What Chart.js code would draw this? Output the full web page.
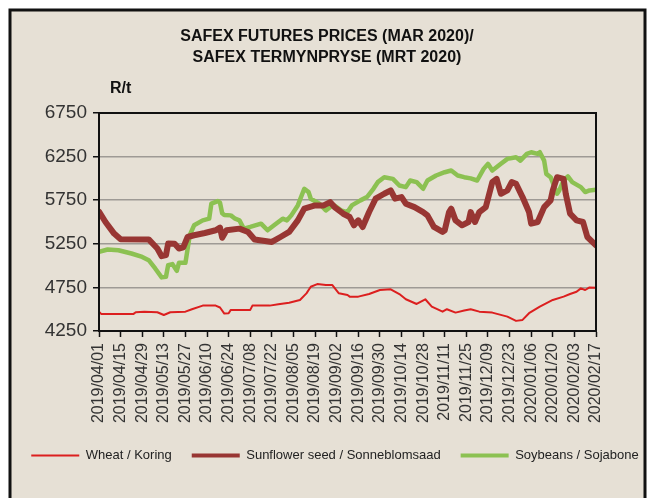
<!DOCTYPE html>
<html>
<head>
<meta charset="utf-8">
<script src="https://cdn.jsdelivr.net/npm/chart.js@4.4.1/dist/chart.umd.min.js"></script>
<style>
  html, body { margin: 0; padding: 0; background: #fff; }
</style>
</head>
<body>
<canvas id="safex-chart" width="654" height="498"></canvas>
<script>
// x axis = trading day index since 2019/04/01, one tick label every 10 days
const tickLabels = [
  '2019/04/01', '2019/04/15', '2019/04/29', '2019/05/13', '2019/05/27', '2019/06/10',
  '2019/06/24', '2019/07/08', '2019/07/22', '2019/08/05', '2019/08/19', '2019/09/02',
  '2019/09/16', '2019/09/30', '2019/10/14', '2019/10/28', '2019/11/11', '2019/11/25',
  '2019/12/09', '2019/12/23', '2020/01/06', '2020/01/20', '2020/02/03', '2020/02/17'
];

const wheatDay = [0, 1, 16, 17, 21, 27, 30, 33, 40, 43, 48, 54, 56, 58, 60, 61, 70, 71, 79, 83,
  88, 93, 96, 98, 101, 105, 108, 111, 115, 116, 120, 125, 130, 135, 139, 142, 147, 151, 154, 159,
  161, 165, 169, 172, 176, 182, 189, 193, 196, 199, 204, 210, 215, 218, 221, 223, 225, 227, 230];
const wheatPrice = [4472, 4446, 4446, 4465, 4472, 4465, 4434, 4465, 4472, 4500, 4541, 4541, 4520, 4450, 4454, 4492, 4492, 4541, 4541, 4556,
  4575, 4606, 4682, 4758, 4788, 4777, 4777, 4682, 4663, 4644, 4644, 4674, 4720, 4728, 4674, 4614, 4560, 4614, 4530, 4472,
  4500, 4461, 4484, 4500, 4472, 4461, 4415, 4366, 4377, 4454, 4530, 4606, 4644, 4674, 4700, 4739, 4720, 4750, 4746];

const sunflowerDay = [0, 3, 7, 10, 23, 27, 29, 31, 32, 35, 37, 39, 41, 44, 49, 54, 56, 57, 59, 65,
  69, 72, 80, 84, 88, 92, 95, 100, 104, 107, 109, 113, 116, 118, 120, 122, 125, 128, 132, 135,
  137, 140, 142, 146, 150, 152, 155, 159, 160, 162, 163, 165, 168, 171, 172, 174, 176, 179, 182, 184,
  186, 189, 191, 193, 196, 199, 200, 203, 206, 209, 210, 212, 215, 216, 218, 221, 224, 226, 230];
const sunflowerPrice = [5620, 5500, 5367, 5302, 5300, 5196, 5108, 5120, 5253, 5250, 5196, 5210, 5328, 5348, 5374, 5405, 5436, 5320, 5405, 5424,
  5386, 5299, 5271, 5328, 5386, 5519, 5653, 5690, 5690, 5728, 5671, 5595, 5557, 5462, 5519, 5443, 5614, 5767, 5824, 5862,
  5767, 5786, 5710, 5671, 5614, 5576, 5443, 5386, 5405, 5614, 5653, 5519, 5462, 5500, 5614, 5500, 5614, 5671, 5957, 5995,
  5824, 5862, 5957, 5938, 5786, 5614, 5481, 5500, 5671, 5748, 5862, 6014, 5995, 5824, 5595, 5519, 5500, 5328, 5233];

const soyDay = [0, 4, 9, 15, 20, 23, 26, 29, 31, 32, 34, 36, 37, 40, 42, 44, 48, 51, 52, 55,
  56, 57, 58, 61, 63, 65, 67, 70, 75, 78, 81, 85, 87, 89, 92, 95, 97, 98, 102, 105,
  108, 109, 112, 115, 117, 121, 124, 127, 129, 132, 136, 139, 142, 144, 147, 150, 152, 156, 160, 163,
  166, 169, 172, 175, 178, 180, 182, 186, 189, 193, 195, 198, 200, 203, 204, 206, 207, 209, 212, 213,
  215, 217, 219, 223, 225, 227, 230];
const soyPrice = [5157, 5185, 5176, 5139, 5100, 5062, 4967, 4865, 4872, 5005, 5017, 4940, 5032, 5032, 5348, 5462, 5519, 5538, 5710, 5740,
  5720, 5600, 5580, 5576, 5538, 5519, 5424, 5443, 5481, 5405, 5462, 5538, 5519, 5576, 5690, 5881, 5843, 5767, 5710, 5633,
  5690, 5690, 5633, 5614, 5690, 5748, 5786, 5881, 5957, 6014, 5995, 5919, 5900, 5976, 5957, 5881, 5976, 6033, 6071, 6090,
  6033, 6014, 6000, 5976, 6109, 6167, 6090, 6167, 6224, 6242, 6204, 6281, 6300, 6281, 6300, 6204, 6052, 6014, 5824, 5862,
  5976, 6022, 5957, 5900, 5843, 5862, 5870];

const FONT = '"Liberation Sans", Arial, sans-serif';
const pairs = (days, prices) => days.map((d, i) => ({ x: d, y: prices[i] }));

// beige card with black frame, plot box border and the "R/t" unit label
const framePlugin = {
  id: 'frame',
  afterLayout(chart) {
    // legend row sits a little right of centre in the original
    chart.legend.left += 8;
    chart.legend.right += 8;
  },
  beforeDraw(chart) {
    const ctx = chart.ctx;
    ctx.save();
    ctx.fillStyle = '#ffffff';
    ctx.fillRect(0, 0, chart.width, chart.height);
    ctx.fillStyle = '#e6e0d5';
    ctx.fillRect(10, 10, 635, 500);
    ctx.strokeStyle = '#111';
    ctx.lineWidth = 3;
    ctx.strokeRect(10, 10, 635, 500);
    ctx.restore();
  },
  afterDraw(chart) {
    const { ctx, chartArea: a } = chart;
    ctx.save();
    ctx.strokeStyle = '#111';
    ctx.lineWidth = 2;
    ctx.strokeRect(a.left, a.top, a.right - a.left, a.bottom - a.top);
    ctx.font = 'bold 16px ' + FONT;
    ctx.fillStyle = '#111';
    ctx.textBaseline = 'middle';
    ctx.fillText('R/t', a.left + 11, 89);
    ctx.restore();
  }
};

new Chart(document.getElementById('safex-chart').getContext('2d'), {
  type: 'line',
  data: {
    datasets: [
      { label: 'Wheat / Koring', data: pairs(wheatDay, wheatPrice), borderColor: '#dc1f1f', borderWidth: 2 },
      { label: 'Sunflower seed / Sonneblomsaad', data: pairs(sunflowerDay, sunflowerPrice), borderColor: '#983633', borderWidth: 6 },
      { label: 'Soybeans / Sojabone', data: pairs(soyDay, soyPrice), borderColor: '#8cc152', borderWidth: 4.5 }
    ]
  },
  options: {
    responsive: false,
    animation: false,
    layout: { padding: { left: 0, right: 0, top: 20, bottom: 26 } },
    elements: {
      point: { radius: 0 },
      line: { tension: 0, borderJoinStyle: 'round', borderCapStyle: 'round' }
    },
    plugins: {
      title: {
        display: true,
        text: ['SAFEX FUTURES PRICES (MAR 2020)/', 'SAFEX TERMYNPRYSE (MRT 2020)'],
        color: '#111',
        font: { family: FONT, size: 16, weight: 'bold', lineHeight: 1.3125 },
        padding: { top: 6.5, bottom: 44.5 }
      },
      legend: {
        position: 'bottom',
        labels: {
          usePointStyle: true,
          pointStyleWidth: 48,
          padding: 20,
          color: '#222',
          font: { family: FONT, size: 13 },
          generateLabels(chart) {
            return chart.data.datasets.map((ds, i) => ({
              text: ds.label,
              fillStyle: ds.borderColor,
              strokeStyle: ds.borderColor,
              lineWidth: Math.min(ds.borderWidth, 4),
              pointStyle: 'line',
              fontColor: '#222',
              hidden: false,
              datasetIndex: i
            }));
          }
        }
      },
      tooltip: { enabled: false }
    },
    scales: {
      x: {
        type: 'linear',
        min: 0,
        max: 230,
        afterFit(scale) { scale.height = 98; },
        border: { display: true, color: '#111', width: 2 },
        grid: { drawOnChartArea: false, drawTicks: true, tickLength: 6, tickColor: '#111', tickWidth: 1.5 },
        ticks: {
          stepSize: 10,
          autoSkip: false,
          maxRotation: 90,
          minRotation: 90,
          padding: 6,
          color: '#333',
          font: { family: FONT, size: 16 },
          callback: (v) => tickLabels[Math.round(v / 10)] || ''
        }
      },
      y: {
        min: 4250,
        max: 6750,
        afterFit(scale) { scale.width = 99; },
        border: { display: true, color: '#111', width: 2 },
        grid: { color: '#9e9a95', lineWidth: 1.5, drawTicks: true, tickLength: 6, tickColor: '#111', tickWidth: 1.5 },
        ticks: { stepSize: 500, padding: 6, color: '#333', font: { family: FONT, size: 19 }, callback: (v) => String(v) }
      },
      // empty right-hand block so the plot ends where the reference does
      yRight: {
        position: 'right',
        display: true,
        afterFit(scale) { scale.width = 58; },
        border: { display: false },
        grid: { display: false },
        ticks: { display: false }
      }
    }
  },
  plugins: [framePlugin]
});
</script>
</body>
</html>
